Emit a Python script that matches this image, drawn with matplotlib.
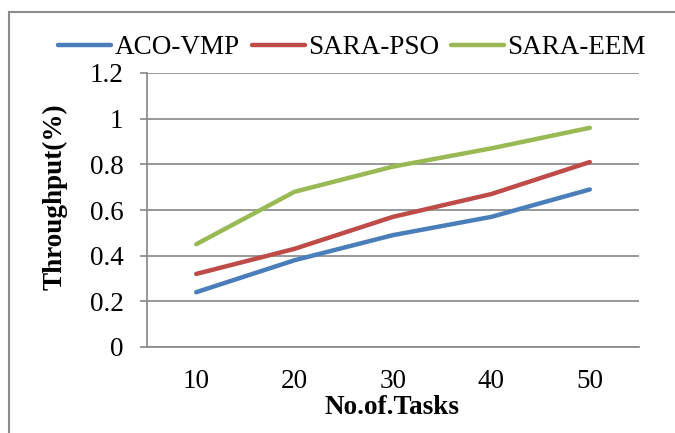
import matplotlib
matplotlib.use("Agg")
import matplotlib.pyplot as plt
from matplotlib.patches import Rectangle

# Throughput vs. number of tasks for three VM placement schemes
tasks = ["10", "20", "30", "40", "50"]
aco_vmp = [0.24, 0.38, 0.49, 0.57, 0.69]
sara_pso = [0.32, 0.43, 0.57, 0.67, 0.81]
sara_eem = [0.45, 0.68, 0.79, 0.87, 0.96]

plt.rcParams["font.family"] = ["Liberation Serif", "DejaVu Serif"]
FS = 19.5
GREY = "#868686"
W, H = 675, 433

fig = plt.figure(figsize=(W / 100, H / 100), dpi=100)
ax = fig.add_axes([147 / W, 1 - 347 / H, (639 - 147) / W, (347 - 73) / H])

x = range(len(tasks))
ax.plot(x, aco_vmp, color="#4A7EBB", lw=3.2, label="ACO-VMP", solid_capstyle="round")
ax.plot(x, sara_pso, color="#BE4B48", lw=3.2, label="SARA-PSO", solid_capstyle="round")
ax.plot(x, sara_eem, color="#98B954", lw=3.2, label="SARA-EEM", solid_capstyle="round")

ax.set_xlim(-0.5, len(tasks) - 0.5)
ax.set_ylim(0, 1.2)
ax.set_xticks(list(x))
ax.set_xticklabels(tasks)
ax.set_yticks([0, 0.2, 0.4, 0.6, 0.8, 1.0, 1.2])
ax.set_yticklabels(["0", "0.2", "0.4", "0.6", "0.8", "1", "1.2"])
ax.yaxis.grid(True, color=GREY, lw=1.2)
ax.set_axisbelow(True)

for side in ("top", "right"):
    ax.spines[side].set_visible(False)
for side in ("left", "bottom"):
    ax.spines[side].set_color(GREY)
    ax.spines[side].set_linewidth(1.2)

ax.tick_params(axis="y", length=5, width=1.2, color=GREY, pad=12, labelsize=FS)
ax.tick_params(axis="x", length=0, pad=16, labelsize=FS)

ax.set_ylabel("Throughput(%)", fontsize=FS, fontweight="bold")
ax.yaxis.set_label_coords((55 - 147) / 492, (347 - 197) / 274)
ax.yaxis.label.set_va("center")
ax.set_xlabel("No.of.Tasks", fontsize=FS, fontweight="bold")
ax.xaxis.set_label_coords(0.498, (347 - 407) / 274)
ax.xaxis.label.set_va("center")

fig.legend(loc="center", bbox_to_anchor=(352 / W, 1 - 48 / H), ncol=3,
           frameon=False, fontsize=FS, handlelength=1.95, handletextpad=0.12,
           columnspacing=0.45)

# outer chart border
fig.patches.append(Rectangle((9 / W, -0.1), 1.1, 1 - 12 / H + 0.1,
                             transform=fig.transFigure, fill=False,
                             edgecolor="#8c8c8c", lw=1.5))

fig.savefig("out.png", dpi=100)
